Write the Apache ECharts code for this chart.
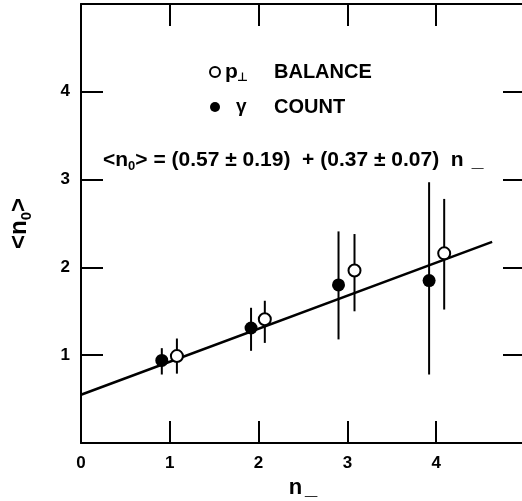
<!DOCTYPE html>
<html>
<head>
<meta charset="utf-8">
<script src="https://cdn.jsdelivr.net/npm/echarts@6/dist/echarts.min.js"></script>
<style>html,body{margin:0;padding:0;background:#fff;}#c{width:522px;height:501px;}</style>
</head>
<body>
<div id="c"></div>
<script>
// gamma count (filled)
const gammaX = [0.91, 1.915, 2.90, 3.92];
const gammaY = [0.94, 1.31, 1.80, 1.85];
const gammaLo = [0.78, 1.05, 1.18, 0.78];
const gammaHi = [1.08, 1.54, 2.41, 2.97];
// p_perp balance (open)
const balX = [1.08, 2.07, 3.08, 4.09];
const balY = [0.99, 1.41, 1.965, 2.16];
const balLo = [0.79, 1.14, 1.50, 1.52];
const balHi = [1.19, 1.62, 2.38, 2.78];
// fitted line end points
const fitX = [0, 4.63];
const fitY = [0.55, 2.29];
const xTicks = [0, 1, 2, 3, 4];
const yTicks = [1, 2, 3, 4];

const FONT = 'Liberation Sans';
const chart = echarts.init(document.getElementById('c'), null, {renderer: 'canvas'});

function errData(xs, lo, hi) { return xs.map((x, i) => [x, lo[i], hi[i]]); }
function errRender(params, api) {
  const a = api.coord([api.value(0), api.value(2)]);
  const b = api.coord([api.value(0), api.value(1)]);
  return {type: 'line', shape: {x1: a[0], y1: a[1], x2: b[0], y2: b[1]}, style: {stroke: '#000', lineWidth: 2}};
}
const line = {show: true, onZero: false, lineStyle: {color: '#000', width: 2}};
const tick = {show: true, inside: true, length: 22, lineStyle: {color: '#000', width: 2}};

chart.setOption({
  animation: false,
  backgroundColor: '#fff',
  grid: {left: 81, right: -3, top: 4, bottom: 58, outerBoundsMode: 'none', containLabel: false},
  legend: {
    orient: 'vertical', left: 204, top: 55, itemGap: 11,
    itemWidth: 10, itemHeight: 10,
    data: [{name: 'bal', icon: 'circle'}, {name: 'gam', icon: 'circle'}],
    formatter: function (n) {
      return n === 'bal' ? '{p|p}{s|\u22a5}{t|BALANCE}' : '{g|\u03b3}{t|COUNT}';
    },
    textStyle: {
      fontFamily: FONT, fontWeight: 'bold', fontSize: 20, color: '#000', lineHeight: 24,
      rich: {
        p: {fontFamily: FONT, fontWeight: 'bold', fontSize: 21, width: 12, lineHeight: 24},
        s: {fontFamily: 'DejaVu Sans', fontWeight: 'bold', fontSize: 12, width: 37, lineHeight: 12, verticalAlign: 'bottom'},
        g: {fontFamily: FONT, fontWeight: 'bold', fontSize: 19, width: 38, padding: [0, 0, 0, 11], lineHeight: 24},
        t: {fontFamily: FONT, fontWeight: 'bold', fontSize: 20, lineHeight: 24}
      }
    }
  },
  graphic: [{
    type: 'text', left: 103, top: 147,
    style: {
      text: '<n{s|0}> = (0.57 \u00b1 0.19)  + (0.37 \u00b1 0.07)  n{u|_}',
      fontFamily: FONT, fontWeight: 'bold', fontSize: 21, fill: '#000', lineHeight: 26,
      rich: {
        s: {fontFamily: FONT, fontWeight: 'bold', fontSize: 13, lineHeight: 13, verticalAlign: 'bottom'},
        u: {fontFamily: FONT, fontWeight: 'bold', fontSize: 21, padding: [0, 0, 0, 8], lineHeight: 26}
      }
    }
  }],
  xAxis: [{
    type: 'value', min: 0, max: 5, interval: 1, position: 'bottom',
    name: '{n|n}{u|_}', nameLocation: 'middle', nameGap: 31,
    nameTextStyle: {fontFamily: FONT, fontWeight: 'bold', fontSize: 22, color: '#000',
      rich: {n: {fontFamily: FONT, fontWeight: 'bold', fontSize: 22}, u: {fontFamily: FONT, fontWeight: 'bold', fontSize: 22, padding: [0, 0, 0, 3]}}},
    axisLine: line, axisTick: tick,
    axisLabel: {fontFamily: FONT, fontWeight: 'bold', fontSize: 17, color: '#000', margin: 12,
      formatter: v => xTicks.indexOf(v) >= 0 ? String(v) : ''},
    splitLine: {show: false}
  }, {
    type: 'value', min: 0, max: 5, interval: 1, position: 'top',
    axisLine: line, axisTick: tick,
    axisLabel: {show: false}, splitLine: {show: false}
  }],
  yAxis: [{
    type: 'value', min: 0, max: 5, interval: 1, position: 'left',
    name: '<n{s|0}>', nameLocation: 'middle', nameGap: 47, nameRotate: 90,
    nameTextStyle: {fontFamily: FONT, fontWeight: 'bold', fontSize: 24, color: '#000', lineHeight: 30,
      rich: {s: {fontFamily: FONT, fontWeight: 'bold', fontSize: 15, lineHeight: 15, verticalAlign: 'bottom'}}},
    axisLine: line, axisTick: tick,
    axisLabel: {fontFamily: FONT, fontWeight: 'bold', fontSize: 17, color: '#000', margin: 11,
      formatter: v => yTicks.indexOf(v) >= 0 ? String(v) : ''},
    splitLine: {show: false}
  }, {
    type: 'value', min: 0, max: 5, interval: 1, position: 'right',
    axisLine: {show: false, onZero: false}, axisTick: tick,
    axisLabel: {show: false}, splitLine: {show: false}
  }],
  series: [
    {type: 'line', data: fitX.map((x, i) => [x, fitY[i]]), symbol: 'none', lineStyle: {color: '#000', width: 2.5}, z: 2, silent: true},
    {type: 'custom', data: errData(gammaX, gammaLo, gammaHi), renderItem: errRender, z: 3, encode: {x: 0, y: [1, 2]}},
    {type: 'custom', data: errData(balX, balLo, balHi), renderItem: errRender, z: 3, encode: {x: 0, y: [1, 2]}},
    {name: 'gam', type: 'scatter', data: gammaX.map((x, i) => [x, gammaY[i]]), symbol: 'circle', symbolSize: 13,
      itemStyle: {color: '#000', opacity: 1}, z: 5},
    {name: 'bal', type: 'scatter', data: balX.map((x, i) => [x, balY[i]]), symbol: 'circle', symbolSize: 12,
      itemStyle: {color: '#fff', borderColor: '#000', borderWidth: 2, opacity: 1}, z: 5}
  ]
});
</script>
</body>
</html>
